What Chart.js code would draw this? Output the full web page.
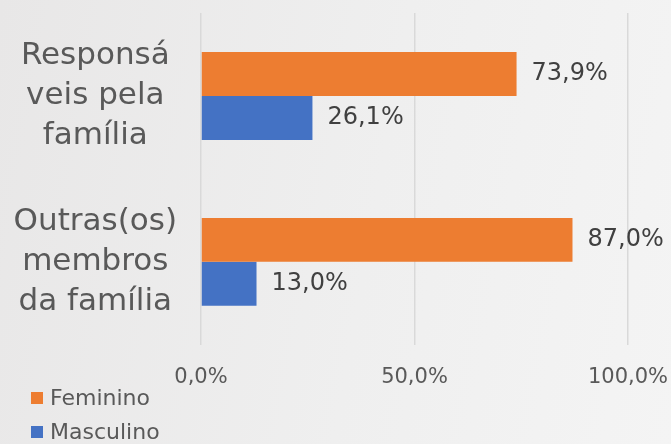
<!DOCTYPE html>
<html lang="pt">
<head>
  <meta charset="UTF-8">
  <title>Feminino x Masculino</title>
  <script src="https://cdn.jsdelivr.net/npm/chart.js"></script>
  <style>
    html, body {
      margin: 0;
      padding: 0;
      width: 671px;
      height: 444px;
      overflow: hidden;
      background: linear-gradient(100deg, #e8e7e7 0%, #efefef 55%, #f4f4f4 100%);
      font-family: 'DejaVu Sans', sans-serif;
      color: #595959;
    }

    .wrap {
      position: relative;
      width: 671px;
      height: 444px;
    }

    .legend {
      position: absolute;
      left: 31px;
      top: 381px;
      font-size: 22px;
      line-height: 34px;
    }

    .legend-item {
      display: flex;
      align-items: center;
    }

    .legend-box {
      width: 12px;
      height: 12px;
      margin-right: 7px;
    }
  </style>
</head>
<body>
  <div class="wrap">
    <canvas id="chart" width="671" height="444"></canvas>
    <div class="legend" id="legend"></div>
  </div>

  <script>
    const categories = [
      ['Responsá', 'veis pela', 'família'],
      ['Outras(os)', 'membros', 'da família']
    ];
    const seriesNames = ['Feminino', 'Masculino'];
    const seriesColors = ['#ED7D31', '#4472C4'];
    const feminino = [73.9, 87.0];
    const masculino = [26.1, 13.0];

    const pct = v => v.toFixed(1).replace('.', ',') + '%';

    // draws the value next to the end of each bar
    const valueLabels = {
      id: 'valueLabels',
      afterDatasetsDraw(chart) {
        const ctx = chart.ctx;
        ctx.save();
        ctx.font = '24px "DejaVu Sans", sans-serif';
        ctx.fillStyle = '#404040';
        ctx.textAlign = 'left';
        ctx.textBaseline = 'middle';
        chart.data.datasets.forEach((ds, i) => {
          chart.getDatasetMeta(i).data.forEach((bar, j) => {
            ctx.fillText(pct(ds.data[j]), bar.x + 15, bar.y);
          });
        });
        ctx.restore();
      }
    };

    const chart = new Chart(document.getElementById('chart'), {
      type: 'bar',
      data: {
        labels: categories,
        datasets: [
          { label: seriesNames[0], data: feminino, backgroundColor: seriesColors[0] },
          { label: seriesNames[1], data: masculino, backgroundColor: seriesColors[1] }
        ]
      },
      options: {
        indexAxis: 'y',
        responsive: false,
        animation: false,
        layout: { padding: { left: 6, right: 43, top: 13, bottom: 34 } },
        categoryPercentage: 0.53,
        barPercentage: 1,
        plugins: {
          legend: { display: false },
          tooltip: { enabled: false }
        },
        scales: {
          x: {
            min: 0,
            max: 100,
            afterFit: s => {
              s.paddingLeft = 0;
              s.paddingRight = 0;
            },
            ticks: {
              stepSize: 50,
              color: '#595959',
              font: { family: 'DejaVu Sans', size: 21 },
              padding: 20,
              callback: v => pct(v)
            },
            grid: { color: '#d9d9d9', lineWidth: 1.5, drawTicks: false },
            border: { display: false }
          },
          y: {
            afterFit: s => {
              s.width = 195;
              s.paddingTop = 0;
              s.paddingBottom = 0;
            },
            ticks: {
              color: '#595959',
              crossAlign: 'center',
              padding: 16,
              font: { family: 'DejaVu Sans', size: 31, lineHeight: 1.29 }
            },
            grid: { display: false },
            border: { display: false }
          }
        }
      },
      plugins: [valueLabels]
    });

    const legend = document.getElementById('legend');
    seriesNames.forEach((name, i) => {
      const item = document.createElement('div');
      item.className = 'legend-item';
      item.innerHTML = '<span class="legend-box" style="background:' + seriesColors[i] + '"></span>' + name;
      legend.appendChild(item);
    });
  </script>
</body>
</html>
